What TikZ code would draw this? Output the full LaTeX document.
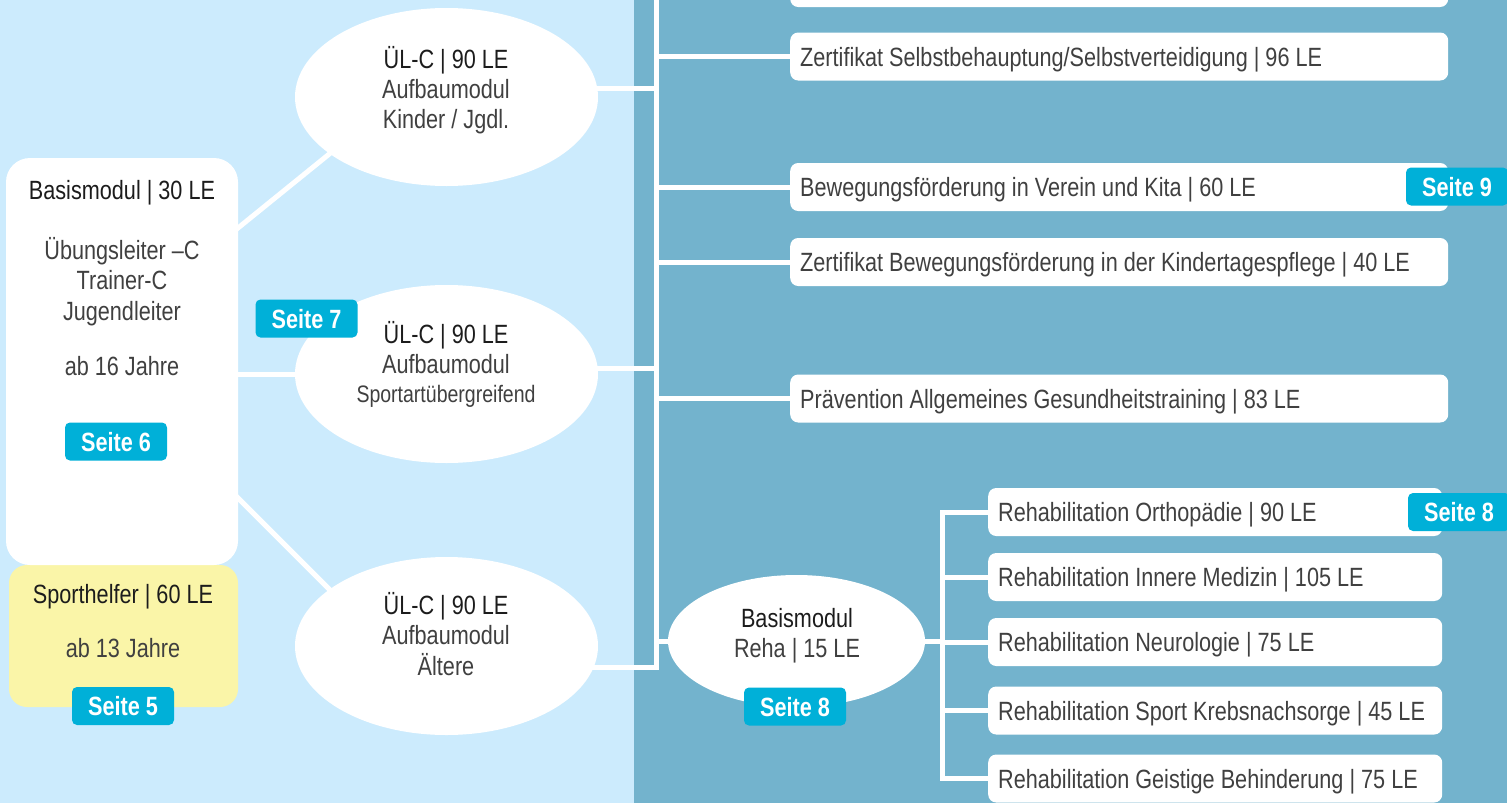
\documentclass[tikz,border=0pt]{standalone}
\usepackage{fontspec}
\setmainfont{Liberation Sans}[FakeStretch=0.82]
\usetikzlibrary{shapes.geometric}
\definecolor{lightbg}{RGB}{204,235,253}
\definecolor{darkbg}{RGB}{115,179,205}
\definecolor{badgec}{RGB}{0,176,216}
\definecolor{yellowc}{RGB}{250,245,168}
\definecolor{titlec}{RGB}{28,28,28}
\definecolor{textc}{RGB}{64,64,64}
\newcommand{\boxtext}[1]{\mbox{\spaceskip=0pt\xspaceskip=0pt\relax #1}}
\pgfdeclarelayer{bg}
\pgfsetlayers{bg,main}
\begin{document}
\begin{tikzpicture}[x=1pt,y=-1pt,
  conn/.style={draw=white,line width=5pt},
  fnt/.style={font=\fontsize{26.4}{31}\selectfont},
  title/.style={fnt,text=titlec,anchor=base,inner sep=0pt},
  txtline/.style={fnt,text=textc,anchor=base,inner sep=0pt},
  oval/.style={ellipse,fill=white,minimum width=303pt,minimum height=178pt,inner sep=0pt},
  rbox/.style={fill=white,rounded corners=8pt,anchor=west,minimum height=48pt,text width=638pt,inner xsep=10pt,inner ysep=0pt,align=left,fnt,text=textc,text height=19pt,text depth=0pt},
  rehabox/.style={rbox,text width=434pt},
  badge/.style={fill=badgec,rounded corners=5pt,minimum width=102pt,minimum height=38pt,inner sep=0pt,text=white,font=\bfseries\fontsize{26.4}{31}\selectfont,text height=19pt,text depth=0pt},
]
\useasboundingbox (0,0) rectangle (1507,803);
\clip (0,0) rectangle (1507,803);

% left column boxes
\node[fill=yellowc,rounded corners=18pt,minimum width=229pt,minimum height=142pt,inner sep=0pt] (sport) at (123.5,636) {};
\node[fill=white,rounded corners=24pt,minimum width=232pt,minimum height=407pt,inner sep=0pt] (basis) at (122,361.5) {};
\node[title] (basisT) at (122,199) {Basismodul | 30 LE};
\node[txtline] (basisA) at (122,259) {Übungsleiter –C};
\node[txtline] (basisB) at (122,289) {Trainer-C};
\node[txtline] (basisC) at (122,320) {Jugendleiter};
\node[txtline] (basisD) at (122,375) {ab 16 Jahre};
\node[title] (sportT) at (123,603) {Sporthelfer | 60 LE};
\node[txtline] (sportA) at (123,657) {ab 13 Jahre};

% ellipses
\node[oval] (E1) at (446.5,97) {};
\node[oval] (E2) at (446.5,374) {};
\node[oval] (E3) at (446.5,646) {};
\node[title] (E1a) at (446,68) {ÜL-C | 90 LE};
\node[txtline] (E1b) at (446,98) {Aufbaumodul};
\node[txtline] (E1c) at (446,128) {Kinder / Jgdl.};
\node[title] (E2a) at (446,343) {ÜL-C | 90 LE};
\node[txtline] (E2b) at (446,373) {Aufbaumodul};
\node[txtline,font=\fontsize{23.8}{28}\selectfont] (E2c) at (446,402) {Sportartübergreifend};
\node[title] (E3a) at (446,614) {ÜL-C | 90 LE};
\node[txtline] (E3b) at (446,644) {Aufbaumodul};
\node[txtline] (E3c) at (446,675) {Ältere};

% reha ellipse
\node[oval,minimum width=257pt,minimum height=132pt] (reha) at (796.5,641) {};
\node[title] (rehaT) at (797,627) {Basismodul};
\node[txtline] (rehaA) at (797,657) {Reha | 15 LE};

% right boxes
\node[rbox] (b0) at (790,-17) {};
\node[rbox] (b1) at (790,56.5) {\boxtext{Zertifikat Selbstbehauptung/Selbstverteidigung | 96 LE}};
\node[rbox] (b2) at (790,187) {\boxtext{Bewegungsförderung in Verein und Kita | 60 LE}};
\node[rbox] (b3) at (790,262) {\boxtext{Zertifikat Bewegungsförderung in der Kindertagespflege | 40 LE}};
\node[rbox] (b4) at (790,398.5) {\boxtext{Prävention Allgemeines Gesundheitstraining | 83 LE}};

\node[rehabox] (R1) at (988,512) {\boxtext{Rehabilitation Orthopädie | 90 LE}};
\node[rehabox] (R2) at (988,577) {\boxtext{Rehabilitation Innere Medizin | 105 LE}};
\node[rehabox] (R3) at (988,642) {\boxtext{Rehabilitation Neurologie | 75 LE}};
\node[rehabox] (R4) at (988,710.5) {\boxtext{Rehabilitation Sport Krebsnachsorge | 45 LE}};
\node[rehabox] (R5) at (988,778.5) {\boxtext{Rehabilitation Geistige Behinderung | 75 LE}};

% badges
\node[badge] (s6) at (116,441.5) {Seite 6};
\node[badge] (s5) at (123,706) {Seite 5};
\node[badge] (s7) at (306.5,318.5) {Seite 7};
\node[badge] (s9) at (1457,186.5) {Seite 9};
\node[badge] (s8a) at (1459,512) {Seite 8};
\node[badge] (s8b) at (795,706.5) {Seite 8};

\coordinate (ttop) at (656,-40);
\coordinate (tbot) at (656,667);
\coordinate (j1) at (656,88);
\coordinate (j2) at (656,368);
\coordinate (rx) at (942,641);

\begin{pgfonlayer}{bg}
\fill[lightbg] (0,0) rectangle (634,803);
\fill[darkbg] (634,0) rectangle (1507,803);
\draw[conn] ([yshift=39.5pt]basis.center) -- ([yshift=38pt]E1.center);
\draw[conn] (basis.center |- E2.center) -- (E2.center);
\draw[conn] ([yshift=-20.5pt]basis.center) -- ([yshift=-60.5pt]E3.center);
\draw[conn] (E1.center |- j1) -- (j1);
\draw[conn] (E2.center |- j2) -- (j2);
\draw[conn] (E3.center |- tbot) -- (tbot) -- (ttop);
\foreach \b in {b0,b1,b2,b3,b4} \draw[conn] (tbot |- \b.west) -- (\b.west);
\draw[conn] (tbot |- reha.center) -- (reha.center);
\draw[conn] (reha.center) -- (rx);
\draw[conn] (R1.west) -- (rx |- R1.west) -- (rx |- R5.west) -- (R5.west);
\foreach \r in {R2,R3,R4} \draw[conn] (rx |- \r.west) -- (\r.west);
\end{pgfonlayer}
\end{tikzpicture}
\end{document}
